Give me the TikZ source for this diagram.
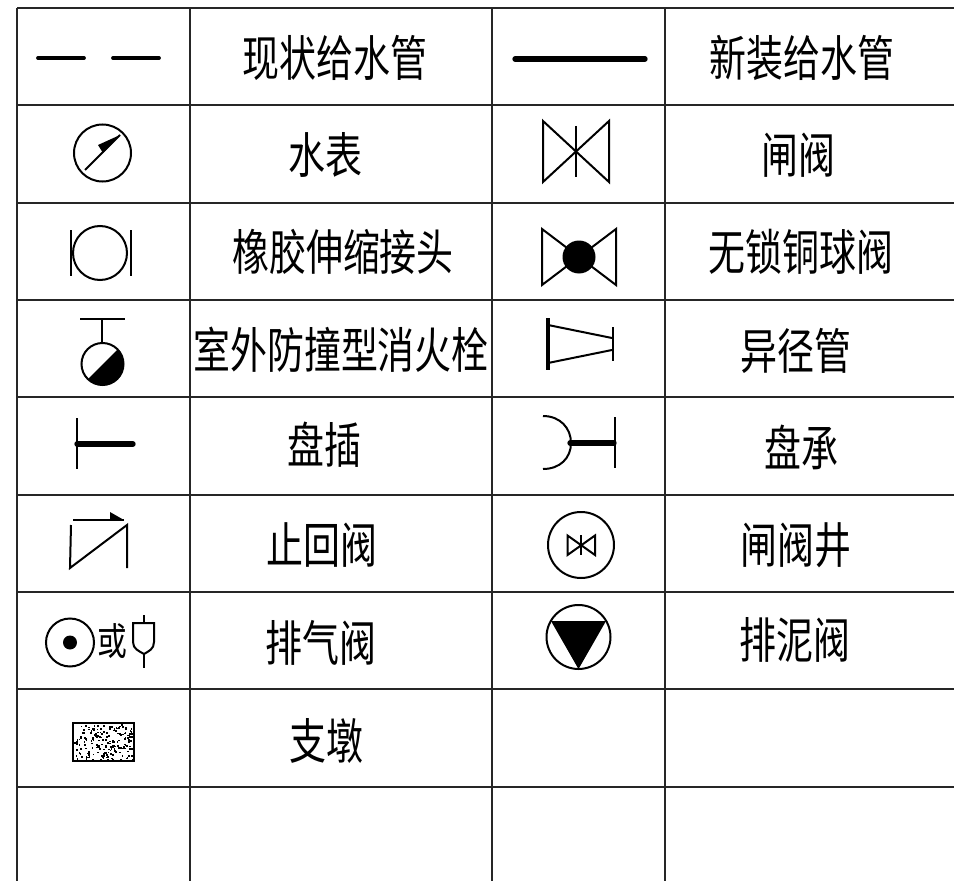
\documentclass[tikz,border=0pt]{standalone}
\usepackage{fontspec}
\newfontfamily\cjk{Noto Sans CJK SC}
\tikzset{
  grid line/.style={line width=1.7pt,draw=black!85},
  sym/.style={line width=1.5pt,draw=black},
  thick pipe/.style={line width=4pt,draw=black,line cap=round},
  label/.style={font=\cjk\fontsize{33}{33}\selectfont,xscale=.84,yscale=1.11,transform shape,inner sep=0pt},
  small label/.style={font=\cjk\fontsize{26}{26}\selectfont,xscale=.86,yscale=1.1,transform shape,inner sep=0pt}
}
\begin{document}
\begin{tikzpicture}[x=0.75pt,y=-0.75pt]
\useasboundingbox (0,0) rectangle (954,881);
\fill[white] (0,0) rectangle (954,881);
% grid
\foreach \yy in {8,105,203,300,397,495,592,689,787}
  \draw[grid line] (17,\yy) -- (954,\yy);
\foreach \xx in {17,190,492,665}
  \draw[grid line] (\xx,8) -- (\xx,881);
% labels
\node[label] (t1) at (335,58) {现状给水管};
\node[label] (t2) at (802,58) {新装给水管};
\node[label] (t3) at (325,155) {水表};
\node[label] (t4) at (798,155) {闸阀};
\node[label] (t5) at (343,252) {橡胶伸缩接头};
\node[label] (t6) at (801,252) {无锁铜球阀};
\node[label] (t7) at (341,350) {室外防撞型消火栓};
\node[label] (t8) at (796,351) {异径管};
\node[label] (t9) at (324,445) {盘插};
\node[label] (t10) at (801,447) {盘承};
\node[label] (t11) at (322,545) {止回阀};
\node[label] (t12) at (796,545) {闸阀井};
\node[label] (t13) at (321,643) {排气阀};
\node[label] (t14) at (795,640) {排泥阀};
\node[label] (t15) at (326,741) {支墩};
\node[small label] (t16) at (112,641) {或};
% existing and new pipe
\draw[line width=2.8pt,line cap=round] (38,58) -- (84,58) (113,58) -- (159,58);
\draw[thick pipe] (515,59) -- (645,59);
% water meter
\draw[sym] (102.5,153) circle (28.5);
\draw[sym] (85,170) -- (120,135);
\fill (120,135) -- (98,145) -- (103,153) -- cycle;
% rubber joint
\draw[sym] (100,253) circle (27);
\draw[sym] (71,230) -- (71,276) (130.5,230) -- (130.5,276);
% hydrant
\draw[sym] (80,319) -- (125,319) (102,319) -- (102,343);
\fill (117.5,349.5) arc (-45:135:21) -- cycle;
\draw[sym] (102.5,364) circle (21);
% flange spigot
\draw[sym] (77,418) -- (77,469);
\draw[thick pipe] (77,444) -- (133,444);
% check valve
\draw[sym] (71,525) -- (70,568) -- (127,525) -- (127,568);
\draw[sym] (73,520) -- (124,520);
\fill (110,512) -- (124,520) -- (110,520.5) -- cycle;
% air valve
\draw[sym] (70,642.5) circle (24);
\fill (70,642.5) circle (7);
\draw[sym] (133,623) -- (154,623) -- (154,642) .. controls (154,649) and (149,651) .. (144,654) .. controls (139,651) and (133,649) .. (133,642) -- cycle;
\draw[sym] (144,615) -- (144,623) (144,654) -- (144,668);
% pier
\pgfmathsetseed{4217}
\foreach \i in {1,...,200}{
  \pgfmathsetmacro{\px}{74+59*rnd}
  \pgfmathsetmacro{\py}{724+36*rnd}
  \fill (\px,\py) rectangle ++(1.7,1.7);
}
\draw[line width=1.8pt] (73,723) rectangle (134,761);
% gate valve
\draw[sym] (543,121) -- (543,182) -- (609,121) -- (609,182) -- cycle;
\draw[sym] (576,126) -- (576,177);
% ball valve
\draw[sym] (542,229) -- (542,285) -- (616,229) -- (616,285) -- cycle;
\fill (579,257) circle (16.5);
% reducer
\draw[line width=2.3pt] (548,318) -- (548,370);
\draw[sym] (612.5,327) -- (612.5,361);
\draw[sym] (548,325) -- (612,338) (548,363) -- (612,350);
% flange socket
\draw[sym] (543,416) .. controls (560,416) and (571,428) .. (571,443) .. controls (571,458) and (560,469) .. (543,469);
\draw[sym] (614.5,417) -- (614.5,468);
\draw[thick pipe] (570,443) -- (614,443);
% gate valve well
\draw[sym] (581,545) circle (33);
\draw[sym] (567.5,535.5) -- (567.5,555) -- (595,535.5) -- (595,555) -- cycle;
\draw[sym] (581,535) -- (581,555);
% drain valve
\draw[sym] (578.5,637) circle (32);
\fill (551,621) -- (606,621) -- (578.5,669) -- cycle;
\end{tikzpicture}
\end{document}
